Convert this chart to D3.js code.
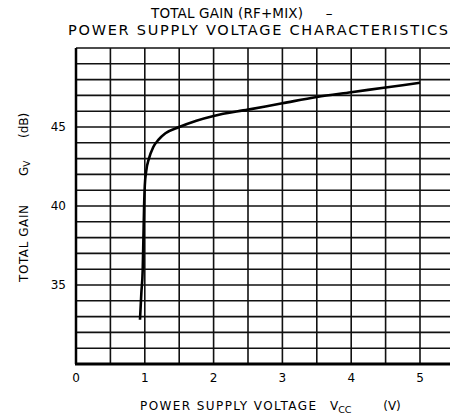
<!DOCTYPE html>
<html>
<head>
<meta charset="utf-8">
<script src="https://cdn.jsdelivr.net/npm/d3@7"></script>
<style>
  body { margin: 0; background: #fff; }
  text { font-family: "DejaVu Sans", "Open Sans", sans-serif; fill: #000; }
</style>
</head>
<body>
<div id="chart"></div>
<script>
// data
const vcc  = [0.93, 0.95, 0.97, 0.98, 0.99, 1.0, 1.02, 1.06, 1.12, 1.2, 1.3, 1.5, 1.75, 2.0, 2.5, 3.0, 3.5, 4.0, 4.5, 5.0];
const gain = [32.8, 34.5, 36.0, 38.0, 40.0, 41.3, 42.2, 43.0, 43.7, 44.2, 44.6, 45.0, 45.4, 45.7, 46.1, 46.5, 46.9, 47.2, 47.5, 47.8];
const xTicks = [0, 1, 2, 3, 4, 5];
const yTicks = [35, 40, 45];

const width = 450, height = 415;

var svg = d3.select("#chart").append("svg")
  .attr("width", width)
  .attr("height", height);

// scales (grid runs past the right edge, as in the scan)
let x = d3.scaleLinear().domain([0, 5.5]).range([76, 454.4]);
let y = d3.scaleLinear().domain([30, 50]).range([364, 48]);

// grid lines: every 0.5 V and every 1 dB
svg.append("g").selectAll("line")
  .data(d3.range(0, 5.51, 0.5))
  .enter().append("line")
  .attr("x1", d => x(d)).attr("x2", d => x(d))
  .attr("y1", y(50)).attr("y2", y(30))
  .attr("stroke", "#111").attr("stroke-width", 1.6);

svg.append("g").selectAll("line")
  .data(d3.range(30, 50.1, 1))
  .enter().append("line")
  .attr("x1", x(0)).attr("x2", x(5.5))
  .attr("y1", d => y(d)).attr("y2", d => y(d))
  .attr("stroke", "#111").attr("stroke-width", 1.6);

// heavier frame on left and bottom
svg.append("line")
  .attr("x1", x(0)).attr("x2", x(0)).attr("y1", y(50)).attr("y2", y(30))
  .attr("stroke", "#000").attr("stroke-width", 2.5);
svg.append("line")
  .attr("x1", x(0) - 1).attr("x2", x(5.5)).attr("y1", y(30)).attr("y2", y(30))
  .attr("stroke", "#000").attr("stroke-width", 3);

// tick labels
svg.append("g").selectAll("text")
  .data(xTicks)
  .enter().append("text")
  .attr("x", d => x(d)).attr("y", y(30) + 18)
  .attr("text-anchor", "middle")
  .style("font-size", "12px")
  .text(d => d);

svg.append("g").selectAll("text")
  .data(yTicks)
  .enter().append("text")
  .attr("x", 66).attr("y", d => y(d))
  .attr("text-anchor", "end")
  .attr("dominant-baseline", "central")
  .style("font-size", "12px")
  .text(d => d);

// curve
let line = d3.line()
  .x((d, i) => x(vcc[i]))
  .y(d => y(d))
  .curve(d3.curveMonotoneX);

svg.append("path")
  .attr("d", line(gain))
  .attr("fill", "none")
  .attr("stroke", "#000")
  .attr("stroke-width", 2.6);

// titles
svg.append("text")
  .attr("x", 151).attr("y", 18)
  .attr("textLength", 152).attr("lengthAdjust", "spacing")
  .style("font-size", "13.5px")
  .text("TOTAL GAIN (RF+MIX)");
svg.append("text")
  .attr("x", 329).attr("y", 18)
  .attr("text-anchor", "middle")
  .style("font-size", "13.5px")
  .text("\u2013");
svg.append("text")
  .attr("x", 68).attr("y", 35)
  .attr("textLength", 380).attr("lengthAdjust", "spacing")
  .style("font-size", "14.5px")
  .text("POWER SUPPLY VOLTAGE CHARACTERISTICS");

// x axis title, pieces placed as in the reference
svg.append("text")
  .attr("x", 140).attr("y", 410)
  .attr("textLength", 176).attr("lengthAdjust", "spacing")
  .style("font-size", "12px")
  .text("POWER SUPPLY VOLTAGE");
let vt = svg.append("text")
  .attr("x", 330).attr("y", 410)
  .style("font-size", "12px");
vt.append("tspan").text("V");
vt.append("tspan").attr("dy", 3).style("font-size", "9.5px").text("CC");
svg.append("text")
  .attr("x", 392).attr("y", 410)
  .attr("text-anchor", "middle")
  .style("font-size", "12px")
  .text("(V)");

// y axis title
let yg = svg.append("g").attr("transform", "translate(28,282) rotate(-90)");
yg.append("text")
  .attr("x", 0).attr("y", 0)
  .attr("textLength", 77).attr("lengthAdjust", "spacing")
  .style("font-size", "12px")
  .text("TOTAL GAIN");
let gt = yg.append("text")
  .attr("x", 106).attr("y", 0)
  .style("font-size", "12px");
gt.append("tspan").text("G");
gt.append("tspan").attr("dy", 2).style("font-size", "9px").text("V");
yg.append("text")
  .attr("x", 144).attr("y", 0)
  .style("font-size", "12px")
  .text("(dB)");
</script>
</body>
</html>
